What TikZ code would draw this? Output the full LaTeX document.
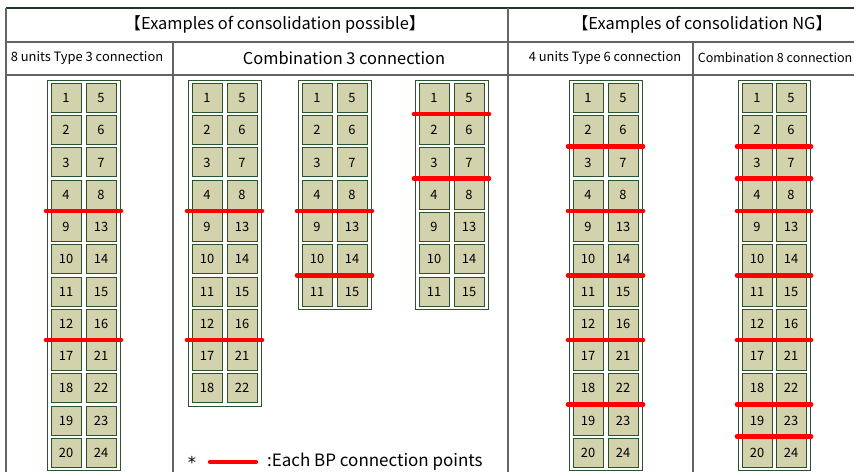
\documentclass[tikz,border=0pt]{standalone}
\usepackage{fontspec}
\setmainfont{Noto Sans CJK JP}
\newfontfamily\starfont{DejaVu Sans}
\definecolor{cellfill}{RGB}{210,210,172}
\definecolor{celledge}{RGB}{45,80,45}
\definecolor{tableline}{RGB}{100,100,100}
\definecolor{jointred}{RGB}{255,0,0}

% one column of units: name, x of left cells, x of right cells, rows, joints
\newcommand{\unitcolumn}[5]{%
  \pgfmathsetmacro{\colbot}{98+32.25*(#4-1)+18}
  \draw[unitbox] (#2-19,81) rectangle (#3+19,\colbot);
  \foreach \i in {1,...,#4}{
    \pgfmathtruncatemacro{\lnum}{8*int((\i-1)/4)+mod(\i-1,4)+1}
    \pgfmathtruncatemacro{\rnum}{\lnum+4}
    \pgfmathsetmacro{\rowy}{98+32.25*(\i-1)}
    \node[cell] (#1-\lnum) at (#2,\rowy) {\lnum};
    \node[cell] (#1-\rnum) at (#3,\rowy) {\rnum};
  }
  \foreach \a/\b in {#5}
    \draw[joint] ([xshift=-1.4mm,yshift=-0.33mm]#1-\a.south west) -- ([xshift=1.4mm,yshift=-0.33mm]#1-\b.south east);
}

\begin{document}
\begin{tikzpicture}[x=0.3mm, y=-0.3mm,
    cell/.style={draw=celledge, fill=cellfill, line width=0.3mm, minimum width=9mm, minimum height=8.7mm, inner sep=0pt, font=\fontsize{11}{13}\selectfont},
    unitbox/.style={draw=celledge, fill=white, line width=0.3mm},
    joint/.style={draw=jointred, line width=1.3mm, line cap=round},
    rule/.style={draw=tableline, line width=0.35mm},
    bighead/.style={font=\fontsize{14}{16}\selectfont},
    subhead/.style={font=\fontsize{11}{13}\selectfont}]
    \useasboundingbox (0,0) rectangle (854,472);

    % table
    \draw[rule, draw=celledge!70!black] (6,8) -- (854,8);
    \draw[rule] (6,8) -- (6,472);
    \draw[rule] (6,42) -- (854,42);
    \draw[rule] (6,75) -- (854,75);
    \draw[rule] (508,8) -- (508,472);
    \draw[rule] (173,42) -- (173,472);
    \draw[rule] (693,42) -- (693,472);

    % headers
    \node[bighead] (okhead) at (275,24) {【Examples of consolidation possible】};
    \node[bighead] (nghead) at (702,24) {【Examples of consolidation NG】};
    \node[subhead] (type3) at (87,58) {8 units Type 3 connection};
    \node[bighead] (comb3) at (344,58) {Combination 3 connection};
    \node[subhead] (type6) at (605,58) {4 units Type 6 connection};
    \node[subhead, font=\fontsize{10.7}{13}\selectfont] (comb8) at (775,58) {Combination 8 connection};

    % units
    \unitcolumn{a}{66}{101}{12}{4/8,12/16}
    \unitcolumn{b}{207}{242}{10}{4/8,12/16}
    \unitcolumn{c}{317}{352}{7}{4/8,10/14}
    \unitcolumn{d}{434}{469}{7}{1/5,3/7}
    \unitcolumn{e}{588}{623}{12}{2/6,4/8,10/14,12/16,18/22}
    \unitcolumn{f}{757}{791}{12}{2/6,3/7,4/8,10/14,12/16,18/22,19/23}

    % legend
    \node[inner sep=0pt, text depth=0pt, anchor=base, font=\starfont\fontsize{14}{14}\selectfont] (star) at (192,468) {*};
    \coordinate (legA) at (210,462);
    \coordinate (legB) at (256,462);
    \draw[joint] (legA) -- (legB);
    \node[bighead, font=\fontsize{14.5}{16}\selectfont, anchor=west] (legtext) at (263,462) {:Each BP connection points};
\end{tikzpicture}
\end{document}
